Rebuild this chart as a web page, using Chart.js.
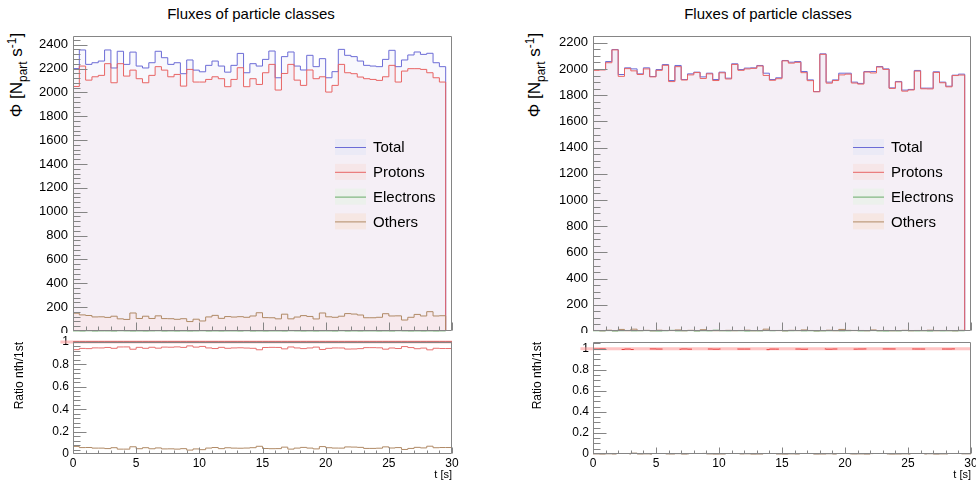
<!DOCTYPE html>
<html>
<head>
<meta charset="utf-8">
<script src="https://cdn.jsdelivr.net/npm/chart.js@4.4.1/dist/chart.umd.min.js"></script>
<style>
  body { margin: 0; background: #fff; width: 976px; height: 485px; overflow: hidden; position: relative;
         font-family: 'Liberation Sans', Arial, Helvetica, sans-serif; color: #000; }
  canvas { position: absolute; }
  .title { position: absolute; top: 5px; font-size: 15px; line-height: 18px; transform: translateX(-50%); white-space: nowrap; }
  .ytitle { position: absolute; font-size: 17px; line-height: 1; white-space: nowrap;
            transform: translate(-50%, -50%) rotate(-90deg); }
  .ytitle sub, .ytitle sup { font-size: 70%; }
</style>
</head>
<body>
<div class="title" style="left:251px">Fluxes of particle classes</div>
<div class="title" style="left:768px">Fluxes of particle classes</div>
<div class="ytitle" style="left:18px;top:75px">&Phi; [N<sub>part</sub> s<sup>-1</sup>]</div>
<div class="ytitle" style="left:536px;top:75px">&Phi; [N<sub>part</sub> s<sup>-1</sup>]</div>

<canvas id="fluxLeft" width="488" height="333" style="left:0;top:0"></canvas>
<canvas id="ratioLeft" width="488" height="152" style="left:0;top:333px"></canvas>
<canvas id="fluxRight" width="488" height="333" style="left:488px;top:0"></canvas>
<canvas id="ratioRight" width="488" height="152" style="left:488px;top:333px"></canvas>

<script>
// time binning (s)
const binWidth = 0.5;
const tMax = 30;
const classNames = ['Total', 'Protons', 'Electrons', 'Others'];

// run 1 fluxes per 0.5 s bin
const leftTotal = [2200, 2356, 2235, 2249, 2263, 2356, 2205, 2345, 2235, 2338, 2221, 2205, 2249, 2345, 2291,
  2235, 2249, 2157, 2272, 2187, 2173, 2227, 2263, 2221, 2170, 2227, 2327, 2165, 2241, 2221,
  2277, 2347, 2123, 2300, 2339, 2221, 2188, 2311, 2216, 2283, 2123, 2174, 2361, 2311, 2300,
  2263, 2227, 2221, 2216, 2277, 2353, 2216, 2272, 2314, 2339, 2319, 2328, 2249, 2216];
const leftProtons = [2050, 2221, 2103, 2131, 2143, 2241, 2081, 2241, 2137, 2187, 2115, 2081, 2143, 2216, 2187,
  2131, 2151, 2053, 2193, 2087, 2087, 2109, 2131, 2115, 2048, 2109, 2207, 2048, 2115, 2067,
  2165, 2235, 2020, 2159, 2235, 2103, 2059, 2188, 2115, 2131, 2003, 2059, 2235, 2165, 2157,
  2129, 2115, 2109, 2101, 2131, 2227, 2087, 2179, 2199, 2199, 2193, 2165, 2123, 2087];
const leftElectrons = [1, 0, 2, 0, 1, 1, 0, 2, 1, 0, 1, 0, 1, 2, 0, 1, 0, 1, 0, 1, 2, 0, 1, 0, 1, 1, 0, 2, 0, 1,
  0, 1, 1, 0, 2, 1, 0, 1, 0, 1, 1, 0, 2, 0, 1, 0, 1, 1, 0, 1, 0, 2, 1, 0, 1, 0, 1, 0, 1];
const leftOthers = [149, 135, 130, 118, 119, 114, 124, 102, 97, 151, 105, 124, 105, 127, 104,
  103, 98, 103, 79, 99, 84, 118, 131, 106, 121, 117, 120, 115, 126, 153,
  112, 111, 102, 141, 102, 117, 129, 122, 101, 151, 119, 115, 124, 146, 142,
  134, 111, 111, 115, 145, 126, 127, 92, 115, 139, 126, 162, 126, 128];

// run 2 fluxes per 0.5 s bin
const rightTotal = [1996, 1996, 2057, 2149, 1958, 2009, 2001, 1963, 2009, 1943, 1996, 2034, 1912, 2027, 1920,
  1963, 1976, 1940, 1968, 1920, 1976, 1930, 2040, 1996, 2007, 2009, 2027, 1968, 1920, 1933,
  2065, 2052, 2057, 1981, 1917, 1828, 2116, 1900, 1917, 1968, 1968, 1900, 1890, 1981, 1981,
  2019, 2001, 1856, 1905, 1839, 1844, 1989, 1854, 1854, 1979, 1900, 1869, 1953, 1961];
const rightProtons = [1990, 1993, 2048, 2146, 1944, 2003, 1986, 1958, 2001, 1940, 1990, 2028, 1904, 2018, 1916,
  1955, 1973, 1928, 1963, 1912, 1971, 1924, 2035, 1990, 2001, 2005, 2023, 1951, 1914, 1926,
  2062, 2045, 2051, 1972, 1911, 1826, 2112, 1892, 1912, 1955, 1961, 1893, 1885, 1977, 1970,
  2015, 1997, 1852, 1901, 1831, 1840, 1984, 1849, 1848, 1974, 1895, 1864, 1950, 1954];
const rightElectrons = [2, 1, 3, 0, 2, 4, 1, 2, 3, 1, 0, 2, 5, 1, 2, 3, 0, 2, 1, 6, 2, 1, 3, 2, 0, 2, 1, 3, 2, 4,
  1, 2, 3, 1, 2, 0, 1, 2, 3, 1, 2, 4, 1, 2, 3, 1, 0, 2, 1, 3, 2, 1, 2, 0, 3, 1, 2, 1, 2];
const rightOthers = [4, 2, 6, 3, 12, 2, 14, 3, 5, 2, 6, 4, 3, 8, 2, 5, 3, 10, 4, 2, 3, 5, 2, 4, 6, 2, 3, 14, 4, 3,
  2, 5, 3, 8, 4, 2, 3, 6, 2, 12, 5, 3, 4, 2, 8, 3, 4, 2, 3, 5, 2, 4, 3, 6, 2, 4, 3, 2, 5];

const lineColors = {
  Total: '#6c6cd6',
  Protons: '#e86464',
  Electrons: '#68aa68',
  Others: '#b08a66'
};
const areaColors = {
  Total: 'rgba(110,110,220,0.05)',
  Protons: 'rgba(200,100,120,0.055)',
  Electrons: 'rgba(100,180,100,0.04)',
  Others: 'rgba(255,190,170,0.12)'
};
const legendColors = {
  Total: '#ebeaf6',
  Protons: '#f6e6e8',
  Electrons: '#ecf1ec',
  Others: '#f6e7e3'
};

const fontFamily = "'Liberation Sans', Arial, Helvetica, sans-serif";

// step histogram points: one point per bin low edge
function histPoints(values, closeToZero) {
  const pts = values.map((v, i) => ({ x: i * binWidth, y: v }));
  const end = values.length * binWidth;
  if (closeToZero) {
    pts.push({ x: end, y: 0 });
  } else {
    pts.push({ x: end, y: values[values.length - 1] });
    pts.push({ x: tMax, y: values[values.length - 1] });
  }
  return pts;
}

function ratio(values, ref) {
  return values.map((v, i) => v / ref[i]);
}

// ROOT-like frame with ticks drawn inside the pad
const rootAxes = {
  id: 'rootAxes',
  afterDatasetsDraw(chart, args, o) {
    const { ctx, chartArea: a, scales: { x, y } } = chart;
    const L = Math.round(a.left) + 0.5, R = Math.round(a.right) - 0.5;
    const T = Math.round(a.top) + 0.5, B = Math.round(a.bottom) - 0.5;
    ctx.save();
    ctx.strokeStyle = o.color;
    ctx.lineWidth = 1;
    ctx.beginPath();
    ctx.moveTo(L, T); ctx.lineTo(R, T); ctx.lineTo(R, B); ctx.lineTo(L, B); ctx.closePath();
    const yMinor = o.yStep / o.yDiv;
    for (let k = 0; k * yMinor <= y.max + 1e-9; k++) {
      const py = Math.round(y.getPixelForValue(k * yMinor)) + 0.5;
      if (py < a.top || py > a.bottom) continue;
      const len = k % o.yDiv === 0 ? o.yMajor : o.yMinorLen;
      ctx.moveTo(L, py); ctx.lineTo(L + len, py);
    }
    const xMinor = o.xStep / o.xDiv;
    for (let k = 0; k * xMinor <= x.max + 1e-9; k++) {
      const px = Math.round(x.getPixelForValue(k * xMinor)) + 0.5;
      const len = k % o.xDiv === 0 ? o.xMajor : o.xMinorLen;
      ctx.moveTo(px, B); ctx.lineTo(px, B - len);
    }
    ctx.stroke();
    ctx.restore();
  }
};

// legend with a light box behind each line sample
const boxLegend = {
  id: 'boxLegend',
  afterDraw(chart, args, o) {
    if (!o.show) return;
    const { ctx } = chart;
    ctx.save();
    ctx.font = '15px ' + fontFamily;
    ctx.textBaseline = 'middle';
    chart.data.datasets.forEach((ds, i) => {
      const cy = o.y + i * o.step;
      ctx.fillStyle = legendColors[ds.label];
      ctx.fillRect(o.x, cy - 8, 31, 16);
      ctx.strokeStyle = ds.borderColor;
      ctx.lineWidth = 1;
      ctx.beginPath();
      ctx.moveTo(o.x, cy + 0.5); ctx.lineTo(o.x + 31, cy + 0.5);
      ctx.stroke();
      ctx.fillStyle = '#000';
      ctx.fillText(ds.label, o.x + 38, cy + 1);
    });
    ctx.restore();
  }
};

// reference line at ratio 1, reaching a bit past the left axis
const unityLine = {
  id: 'unityLine',
  beforeDatasetsDraw(chart, args, o) {
    const { ctx, scales: { x, y } } = chart;
    const py = y.getPixelForValue(1);
    ctx.save();
    ctx.strokeStyle = o.color;
    ctx.lineWidth = o.width;
    ctx.beginPath();
    ctx.moveTo(x.getPixelForValue(o.from), py);
    ctx.lineTo(chart.chartArea.right, py);
    ctx.stroke();
    ctx.restore();
  }
};

function fixWidth(w) {
  return s => { s.width = w; s.paddingTop = 0; s.paddingBottom = 0; };
}
function fixHeight(h) {
  return s => { s.height = h; s.paddingLeft = 0; s.paddingRight = 0; };
}

function fluxChart(id, series, yMax, yDiv, axisWidth, padRight, legendX) {
  const datasets = classNames.map((name, i) => ({
    label: name,
    data: histPoints(series[i], true),
    borderColor: lineColors[name],
    backgroundColor: areaColors[name],
    borderWidth: 1,
    fill: 'origin',
    stepped: 'before',
    pointRadius: 0,
    clip: 3,
    order: 4 - i
  }));
  return new Chart(document.getElementById(id), {
    type: 'line',
    data: { datasets },
    plugins: [rootAxes, boxLegend],
    options: {
      responsive: false,
      animation: false,
      events: [],
      layout: { padding: { left: 0, top: 36, right: padRight, bottom: 2 } },
      scales: {
        x: { type: 'linear', min: 0, max: tMax, display: false },
        y: {
          type: 'linear', min: 0, max: yMax,
          grid: { display: false, drawTicks: false }, border: { display: false },
          ticks: {
            stepSize: 200, includeBounds: false, padding: 5, color: '#000',
            font: { family: fontFamily, size: 13 },
            callback: v => String(v)
          },
          afterFit: fixWidth(axisWidth)
        }
      },
      plugins: {
        legend: { display: false },
        tooltip: { enabled: false },
        rootAxes: { color: '#858585', yStep: 200, yDiv: yDiv, yMajor: 14, yMinorLen: 7, xStep: 5, xDiv: 5, xMajor: 8, xMinorLen: 4 },
        boxLegend: { show: true, x: legendX, y: 147, step: 24.8 }
      }
    }
  });
}

function ratioChart(id, series, ratioStyle, yMax, yDiv, axisWidth, padRight, titlePad) {
  const total = series[0];
  const datasets = ratioStyle.map(st => ({
    label: st.name,
    data: histPoints(ratio(series[classNames.indexOf(st.name)], total), false),
    borderColor: st.color,
    borderDash: st.dash || [],
    borderWidth: 1,
    fill: false,
    stepped: 'before',
    pointRadius: 0,
    clip: 3
  }));
  return new Chart(document.getElementById(id), {
    type: 'line',
    data: { datasets },
    plugins: [unityLine, rootAxes],
    options: {
      responsive: false,
      animation: false,
      events: [],
      layout: { padding: { left: 0, top: 9, right: padRight, bottom: 0 } },
      scales: {
        x: {
          type: 'linear', min: 0, max: tMax,
          grid: { display: false, drawTicks: false }, border: { display: false },
          ticks: { stepSize: 5, padding: 2, color: '#000', maxRotation: 0, font: { family: fontFamily, size: 12 } },
          title: { display: true, text: 't [s]', align: 'end', color: '#000', font: { family: fontFamily, size: 11 }, padding: { top: 0, bottom: 3 } },
          afterFit: fixHeight(31)
        },
        y: {
          type: 'linear', min: 0, max: yMax,
          grid: { display: false, drawTicks: false }, border: { display: false },
          ticks: {
            stepSize: 0.2, includeBounds: false, padding: 4, color: '#000',
            font: { family: fontFamily, size: 12 },
            callback: v => String(Math.round(v * 10) / 10)
          },
          title: { display: true, text: 'Ratio nth/1st', align: 'end', color: '#000', font: { family: fontFamily, size: 12 }, padding: { top: titlePad, bottom: 0 } },
          afterFit: fixWidth(axisWidth)
        }
      },
      plugins: {
        legend: { display: false },
        tooltip: { enabled: false },
        unityLine: { from: -1, color: 'rgba(255,150,150,0.55)', width: 3 },
        rootAxes: { color: '#858585', yStep: 0.2, yDiv: yDiv, yMajor: 13, yMinorLen: 7, xStep: 5, xDiv: 5, xMajor: 6, xMinorLen: 3 }
      }
    }
  });
}

const leftSeries = [leftTotal, leftProtons, leftElectrons, leftOthers];
const rightSeries = [rightTotal, rightProtons, rightElectrons, rightOthers];

fluxChart('fluxLeft', leftSeries, 2473, 5, 73, 36, 335);
fluxChart('fluxRight', rightSeries, 2252, 4, 105, 5, 365);

ratioChart('ratioLeft', leftSeries, [
  { name: 'Total', color: '#a01c1c' },
  { name: 'Protons', color: '#e87070' },
  { name: 'Others', color: '#b08a66' }
], 1, 5, 73, 36, 12);

ratioChart('ratioRight', rightSeries, [
  { name: 'Protons', color: '#e83c3c', dash: [13, 17] },
  { name: 'Others', color: '#6e4420', dash: [24, 14] }
], 1.064, 4, 105, 5, 42);
</script>
</body>
</html>
